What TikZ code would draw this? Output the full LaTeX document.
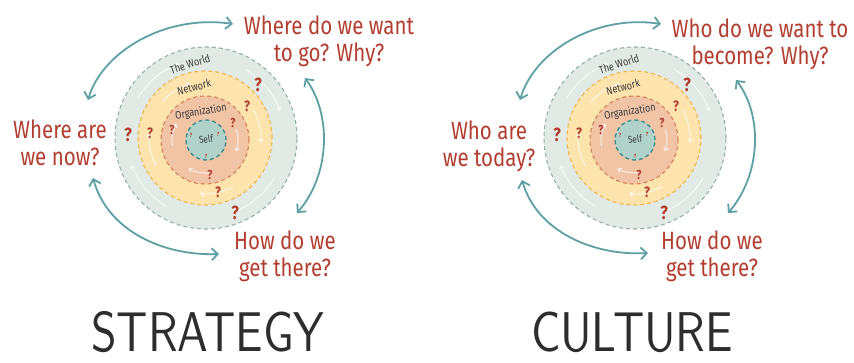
\documentclass[tikz,border=0pt]{standalone}
\usepackage{fontspec}
\setmainfont{Fira Sans}
\newfontfamily\handfont{Fira Sans}[FakeStretch=0.82]
\newfontfamily\titlefont{lmsans10-regular.otf}[FakeStretch=0.82]
\usetikzlibrary{arrows.meta}
\definecolor{worldfill}{RGB}{226,234,229}
\definecolor{worldline}{RGB}{150,178,168}
\definecolor{netfill}{RGB}{253,228,172}
\definecolor{netline}{RGB}{238,180,80}
\definecolor{orgfill}{RGB}{242,196,166}
\definecolor{orgline}{RGB}{212,128,84}
\definecolor{selffill}{RGB}{176,210,201}
\definecolor{selfline}{RGB}{70,140,138}
\definecolor{teal}{RGB}{95,160,165}
\definecolor{qred}{RGB}{178,62,48}
\definecolor{labelgray}{RGB}{60,60,60}
\definecolor{titlegray}{RGB}{45,45,45}
\tikzset{
  ring/.style={circle, inner sep=0pt, dashed, dash pattern=on 4pt off 3pt, line width=1.1pt},
  wa/.style={white, opacity=0.7, line width=1pt, -{Straight Barb[length=3pt,width=5pt]}},
  qm/.style={text=qred, inner sep=0pt, font=\handfont\bfseries\fontsize{#1}{#1}\selectfont},
  ringlabel/.style={text=labelgray, inner sep=0pt, font=\handfont\fontsize{11}{11}\selectfont},
  question/.style={text=qred, align=center, inner sep=0pt, font=\handfont\fontsize{25}{27}\selectfont},
  bigarrow/.style={teal, line width=1.8pt, {Straight Barb[length=6pt,width=12pt]}-{Straight Barb[length=6pt,width=12pt]}},
  title/.style={text=titlegray, inner sep=0pt, anchor=base, font=\titlefont\fontsize{56}{56}\selectfont}
}
\newcommand\ringset[2]{%
\begin{scope}[shift={(#2,138)}]
  \node[ring, fill=worldfill, draw=worldline, minimum size=182pt] (#1world) at (0,0) {};
  \node[ring, fill=netfill, draw=netline, minimum size=134pt] (#1net) at (-1,0) {};
  \node[ring, fill=orgfill, draw=orgline, minimum size=88pt] (#1org) at (-1,2) {};
  \node[ring, fill=selffill, draw=selfline, line width=1.4pt, minimum size=40pt] (#1self) at (0,2) {};
  % faint white circular arrows
  \draw[wa] ([shift={(-150:79)}]0,0) arc[start angle=-150, end angle=-110, radius=79];
  \draw[wa] ([shift={(-60:79)}]0,0) arc[start angle=-60, end angle=-20, radius=79];
  \draw[wa] ([shift={(30:79)}]0,0) arc[start angle=30, end angle=70, radius=79];
  \draw[wa] ([shift={(120:79)}]0,0) arc[start angle=120, end angle=160, radius=79];
  \draw[wa] ([shift={(-140:56)}]-1,0) arc[start angle=-140, end angle=-105, radius=56];
  \draw[wa] ([shift={(-30:56)}]-1,0) arc[start angle=-30, end angle=5, radius=56];
  \draw[wa] ([shift={(60:56)}]-1,0) arc[start angle=60, end angle=95, radius=56];
  \draw[wa] ([shift={(150:56)}]-1,0) arc[start angle=150, end angle=185, radius=56];
  \draw[wa] ([shift={(-20:33)}]-1,2) arc[start angle=-20, end angle=20, radius=33];
  \draw[wa] ([shift={(80:33)}]-1,2) arc[start angle=80, end angle=120, radius=33];
  \draw[wa] ([shift={(170:33)}]-1,2) arc[start angle=170, end angle=210, radius=33];
  % ring labels
  \node[ringlabel, rotate=18] (#1lworld) at (-16,-74) {The World};
  \node[ringlabel, rotate=14] (#1lnet) at (-12,-51) {Network};
  \node[ringlabel, rotate=9] (#1lorg) at (-5,-26) {Organization};
  \node[ringlabel, rotate=8, font=\handfont\fontsize{10}{10}\selectfont] (#1lself) at (0,1) {Self};
  % question marks
  \node[qm=19] (#1q1) at (52,-53) {?};
  \node[qm=15] (#1q2) at (41,-32) {?};
  \node[qm=13] (#1q3) at (27,-15) {?};
  \node[qm=19] (#1q4) at (-78,-3) {?};
  \node[qm=15] (#1q5) at (-56,-5) {?};
  \node[qm=13] (#1q6) at (-34,-8) {?};
  \node[qm=13] (#1q7) at (4,37) {?};
  \node[qm=15] (#1q8) at (12,54) {?};
  \node[qm=19] (#1q9) at (29,75) {?};
  \node[qm=6] (#1q10) at (-15,-3) {?};
  \node[qm=6] (#1q11) at (12,-4) {?};
  \node[qm=6] (#1q12) at (0,18) {?};
\end{scope}}
\begin{document}
\begin{tikzpicture}[x=1pt, y=-1pt]
\useasboundingbox (0,0) rectangle (854,363);
\fill[white] (0,0) rectangle (854,363);

% ---------- STRATEGY ----------
\ringset{s}{206}
\node[question] (swant) at (329,41) {Where do we want\\to go? Why?};
\node[question] (snow) at (60,143) {Where are\\we now?};
\node[question] (show) at (285,256) {How do we\\get there?};
\coordinate (sa1) at (88,100);
\coordinate (sa2) at (233,24);
\coordinate (sb1) at (305,78);
\coordinate (sb2) at (297,213);
\coordinate (sc1) at (93,178);
\coordinate (sc2) at (219,254);
\draw[bigarrow] (sa1) .. controls (102,52) and (165,14) .. (sa2);
\draw[bigarrow] (sb1) .. controls (332,115) and (330,175) .. (sb2);
\draw[bigarrow] (sc1) .. controls (108,232) and (165,256) .. (sc2);
\node[title] (stitle) at (208,351) {STRATEGY};

% ---------- CULTURE ----------
\ringset{c}{635}
\node[question] (cwant) at (760,44) {Who do we want to\\become? Why?};
\node[question] (ctoday) at (489,146) {Who are\\we today?};
\node[question] (chow) at (712,256) {How do we\\get there?};
\coordinate (ca1) at (520,100);
\coordinate (ca2) at (661,24);
\coordinate (cb1) at (736,80);
\coordinate (cb2) at (728,213);
\coordinate (cc1) at (522,180);
\coordinate (cc2) at (648,253);
\draw[bigarrow] (ca1) .. controls (534,52) and (595,14) .. (ca2);
\draw[bigarrow] (cb1) .. controls (763,115) and (761,175) .. (cb2);
\draw[bigarrow] (cc1) .. controls (537,232) and (594,256) .. (cc2);
\node[title] (ctitle) at (632,351) {CULTURE};
\end{tikzpicture}
\end{document}
